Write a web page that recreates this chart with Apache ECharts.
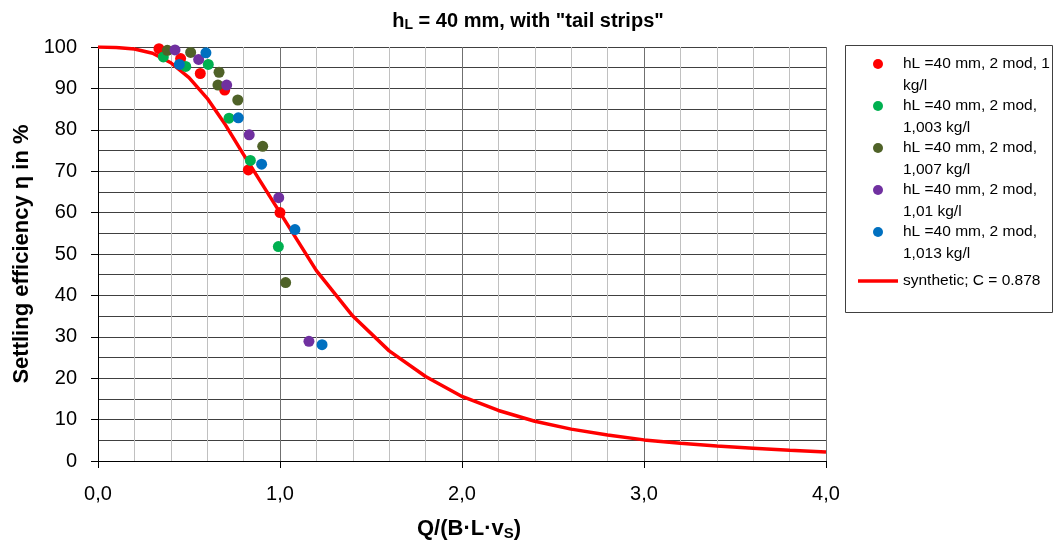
<!DOCTYPE html>
<html>
<head>
<meta charset="utf-8">
<script src="https://cdn.jsdelivr.net/npm/echarts@6/dist/echarts.min.js"></script>
<style>
html,body{margin:0;padding:0;background:#fff;}
#chart{width:1055px;height:546px;}
</style>
</head>
<body>
<div id="chart"></div>
<script>
// ---- data ----
const seriesNames = [
  'hL =40 mm, 2 mod, 1 kg/l',
  'hL =40 mm, 2 mod, 1,003 kg/l',
  'hL =40 mm, 2 mod, 1,007 kg/l',
  'hL =40 mm, 2 mod, 1,01 kg/l',
  'hL =40 mm, 2 mod, 1,013 kg/l'
];
const legendLabels = [
  'hL =40 mm, 2 mod, 1\nkg/l',
  'hL =40 mm, 2 mod,\n1,003 kg/l',
  'hL =40 mm, 2 mod,\n1,007 kg/l',
  'hL =40 mm, 2 mod,\n1,01 kg/l',
  'hL =40 mm, 2 mod,\n1,013 kg/l'
];
const synthName = 'synthetic; C = 0.878';

const pts1000 = [[0.335,99.6],[0.454,97.2],[0.562,93.6],[0.696,89.6],[0.826,70.3],[1.000,60.0]];
const pts1003 = [[0.359,97.6],[0.482,95.3],[0.606,95.8],[0.720,82.8],[0.837,72.6],[0.991,51.8]];
const pts1007 = [[0.381,99.2],[0.509,98.7],[0.665,93.9],[0.659,90.8],[0.768,87.2],[0.905,76.0],[1.031,43.1]];
const pts1010 = [[0.423,99.3],[0.553,97.0],[0.707,90.8],[0.831,78.8],[0.993,63.6],[1.159,28.9]];
const pts1013 = [[0.447,95.8],[0.593,98.6],[0.771,82.9],[0.899,71.7],[1.082,55.9],[1.231,28.1]];

const synthX = [0,0.1,0.2,0.3,0.4,0.5,0.6,0.7,0.8,0.9,1.0,1.2,1.4,1.6,1.8,2.0,2.2,2.4,2.6,2.8,3.0,3.2,3.4,3.6,3.8,4.0];
const synthY = [100,99.9,99.5,98.5,96.2,92.6,87.6,81.2,74.0,67.0,60.0,46.0,35.0,26.6,20.4,15.6,12.2,9.6,7.7,6.3,5.1,4.3,3.6,3.1,2.6,2.2];

const seriesColors = ['#ff0000','#00b050','#4f6228','#7030a0','#0070c0'];

// ---- chart ----
const FONT = 'Liberation Sans, Arial, sans-serif';
const chart = echarts.init(document.getElementById('chart'));
const scatterData = [pts1000, pts1003, pts1007, pts1010, pts1013];

const series = scatterData.map((d, i) => ({
  name: seriesNames[i],
  type: 'scatter',
  data: d,
  symbol: 'circle',
  symbolSize: 11,
  itemStyle: { color: seriesColors[i], opacity: 1 },
  z: 3
}));
series.push({
  name: synthName,
  type: 'line',
  data: synthX.map((x, i) => [x, synthY[i]]),
  showSymbol: false,
  symbol: 'none',
  lineStyle: { color: '#ff0000', width: 3.5 },
  itemStyle: { color: '#ff0000' },
  z: 2
});

const legendData = seriesNames.map(n => ({ name: n, icon: 'circle' }));
legendData.push({ name: synthName, icon: 'path://M0,0H40V3.5H0Z' });
const legendMap = {};
seriesNames.forEach((n, i) => legendMap[n] = '\n' + legendLabels[i]);
legendMap[synthName] = '{t|' + synthName + '}';

chart.setOption({
  animation: false,
  backgroundColor: '#fff',
  title: {
    text: '{a|h}{s|L}{a| = 40 mm, with "tail strips"}',
    left: 523,
    textAlign: 'center',
    top: 5,
    textStyle: {
      rich: {
        a: { fontFamily: FONT, fontSize: 20, fontWeight: 'bold', color: '#000', lineHeight: 22 },
        s: { fontFamily: FONT, fontSize: 14, fontWeight: 'bold', color: '#000', lineHeight: 8, verticalAlign: 'bottom' }
      }
    }
  },
  grid: { left: 98, right: 229, top: 47, bottom: 82, containLabel: false },
  legend: {
    orient: 'vertical',
    left: 858,
    top: 31,
    padding: 0,
    itemWidth: 40,
    itemHeight: 10,
    itemGap: -24,
    symbolKeepAspect: true,
    data: legendData,
    formatter: n => legendMap[n],
    textStyle: {
      fontFamily: FONT, fontSize: 15.5, color: '#000', lineHeight: 22,
      rich: { t: { fontFamily: FONT, fontSize: 15.5, color: '#000', lineHeight: 80 } }
    },
    selectedMode: false
  },
  graphic: [{
    type: 'rect',
    shape: { x: 845.5, y: 45.5, width: 207, height: 267 },
    style: { fill: 'none', stroke: '#404040', lineWidth: 1 },
    silent: true,
    z: 10
  }],
  xAxis: {
    type: 'value',
    min: 0, max: 4, interval: 1,
    name: '{a|Q/(B·L·v}{s|S}{a|)}',
    nameLocation: 'middle',
    nameGap: 56,
    nameTextStyle: {
      padding: [0, 0, 0, 14],
      rich: {
        a: { fontFamily: FONT, fontSize: 22, fontWeight: 'bold', color: '#000', lineHeight: 24 },
        s: { fontFamily: FONT, fontSize: 15, fontWeight: 'bold', color: '#000', lineHeight: 10, verticalAlign: 'bottom' }
      }
    },
    axisLine: { show: true, onZero: false, lineStyle: { color: '#000', width: 1 } },
    axisTick: { show: true, inside: false, length: 7, lineStyle: { color: '#000' } },
    axisLabel: {
      fontFamily: FONT, fontSize: 20, color: '#000', margin: 23,
      formatter: v => v.toFixed(1).replace('.', ',')
    },
    splitLine: { show: true, lineStyle: { color: '#707070', width: 1 } },
    minorTick: { show: false, splitNumber: 5 },
    minorSplitLine: { show: true, lineStyle: { color: '#c0c0c0', width: 1 } }
  },
  yAxis: {
    type: 'value',
    min: 0, max: 100, interval: 10,
    name: 'Settling efficiency η in %',
    nameLocation: 'middle',
    nameGap: 63,
    nameTextStyle: { fontFamily: FONT, fontSize: 22, fontWeight: 'bold', color: '#000' },
    axisLine: { show: true, onZero: false, lineStyle: { color: '#000', width: 1 } },
    axisTick: { show: true, inside: false, length: 7, lineStyle: { color: '#000' } },
    axisLabel: { fontFamily: FONT, fontSize: 20, color: '#000', margin: 21 },
    splitLine: { show: true, lineStyle: { color: '#404040', width: 1 } },
    minorTick: { show: false, splitNumber: 2 },
    minorSplitLine: { show: true, lineStyle: { color: '#404040', width: 1 } }
  },
  series: series
});
</script>
</body>
</html>
